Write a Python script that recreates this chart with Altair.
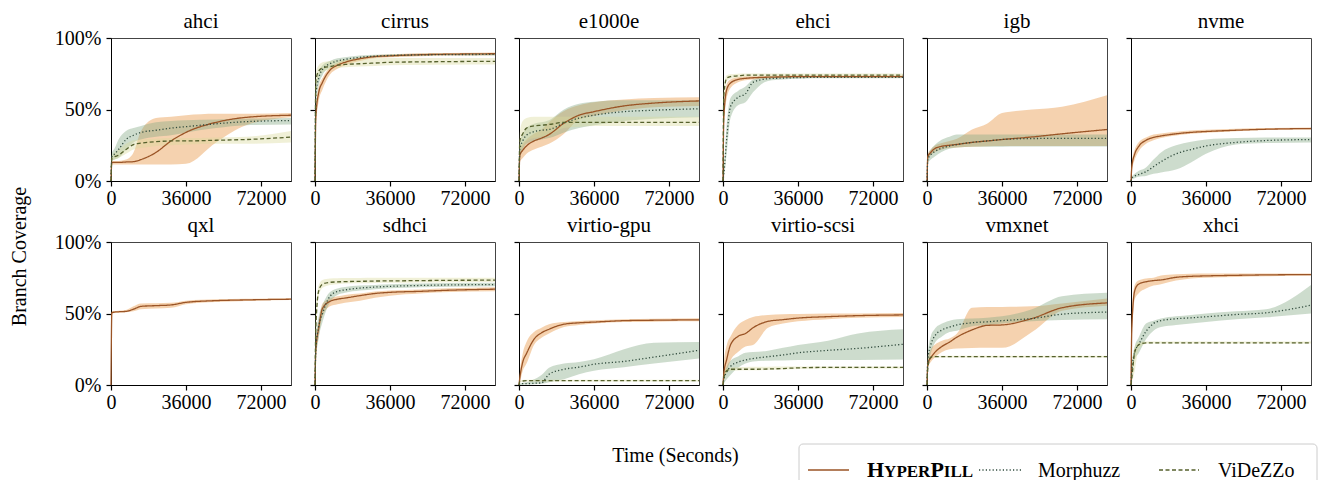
import altair as alt
import pandas as pd

FONT = "Liberation Serif, Times New Roman, Times, DejaVu Serif, serif"

# ---------------- data (coverage in %) ----------------
T = [0, 400, 1800, 3600, 7200, 10800, 14400, 21600, 28800, 36000, 50400, 64800, 86400]
DEVICES = ["ahci", "cirrus", "e1000e", "ehci", "igb", "nvme",
           "qxl", "sdhci", "virtio-gpu", "virtio-scsi", "vmxnet", "xhci"]
TOOLS = ["HyperPill", "Morphuzz", "ViDeZZo"]
X_TICKS = [0, 36000, 72000]
Y_TICKS = [0, 50, 100]

ahci_hp    = [0, 13, 13, 13, 13.3, 13.5, 15, 20, 28, 34, 41, 44.5, 46]
ahci_hp_lo = [0, 11.5, 11.5, 11.5, 11.5, 11.5, 11.5, 11.5, 11.5, 12, 27, 39, 44.5]
ahci_hp_hi = [0, 14, 14, 14, 15, 20, 35, 44, 45, 46, 47, 47, 47.5]
ahci_mz    = [0, 17, 19, 22, 29, 32, 34, 35.5, 37, 38, 40, 41.5, 42.3]
ahci_mz_lo = [0, 14, 15, 16, 22, 27, 29, 31, 32, 34, 37, 39, 39.5]
ahci_mz_hi = [0, 19, 23, 29, 35, 37, 38.5, 41, 42, 42.5, 43, 43.5, 44]
ahci_vz    = [0, 16, 17, 18, 22, 25.5, 26.5, 27.5, 28, 28, 28.5, 29, 30.7]
ahci_vz_lo = [0, 14, 15, 16, 19, 22, 23, 24.5, 25, 25.5, 26, 26, 27]
ahci_vz_hi = [0, 18, 20, 22, 26, 28.5, 29, 29.5, 30, 30, 30.5, 31, 35]

cirrus_hp    = [0, 45, 62, 69, 77.5, 81, 83, 85.5, 87, 87.5, 88.3, 88.7, 89]
cirrus_hp_lo = [0, 37, 56, 64, 74.5, 78.5, 81, 84, 85.8, 86.5, 87.3, 87.7, 88]
cirrus_hp_hi = [0, 50, 66, 72, 79.5, 82.5, 84.2, 86.5, 88, 88.5, 89.3, 89.5, 89.8]
cirrus_mz    = [0, 60, 72, 78, 82, 84, 85, 86.5, 87.3, 87.8, 88.2, 88.4, 88.5]
cirrus_mz_lo = [0, 52, 67, 74, 79.5, 82, 83.5, 85.3, 86.3, 87, 87.5, 87.7, 87.8]
cirrus_mz_hi = [0, 66, 76, 81, 84, 85.8, 86.5, 87.8, 88.3, 88.7, 89, 89.2, 89.3]
cirrus_vz    = [0, 70, 77, 79, 80, 81, 81.5, 82, 82.5, 83, 83.3, 83.5, 83.7]
cirrus_vz_lo = [0, 62, 72, 76, 78, 79, 79.5, 80, 80.5, 81, 81.2, 81.3, 81.4]
cirrus_vz_hi = [0, 76, 81, 83, 84, 84.5, 85, 85.5, 85.8, 86, 86, 86, 86]

e1000e_hp    = [0, 18, 21.5, 24.5, 28, 30, 32.5, 40.5, 46, 48.5, 52.5, 54.5, 56]
e1000e_hp_lo = [0, 13, 16, 19, 22, 24, 26, 33, 43, 45.5, 49.5, 51.5, 52.5]
e1000e_hp_hi = [0, 22, 26, 29, 33, 36, 41, 49, 53, 55, 57, 58, 58.5]
e1000e_mz    = [0, 22, 28, 32, 34.5, 35.5, 36, 40.5, 44, 46, 48.5, 49.5, 50.5]
e1000e_mz_lo = [0, 15, 22, 26, 28, 29, 30, 34, 37, 39, 42, 43.5, 44.5]
e1000e_mz_hi = [0, 27, 33, 37, 40, 41, 42.5, 50, 54, 55.5, 56.5, 56.5, 56.5]
e1000e_vz    = [0, 28, 33, 37, 38.5, 39, 39.5, 41, 41, 41, 41, 41, 41]
e1000e_vz_lo = [0, 20, 24, 28, 30, 31, 32, 37, 38, 38.5, 38.5, 38.5, 38.5]
e1000e_vz_hi = [0, 34, 42, 44, 45, 45, 45, 45, 45, 45, 45, 45, 45]

ehci_hp    = [0, 45, 64, 68.5, 71, 71.8, 72.2, 72.6, 72.8, 73, 73, 73, 73]
ehci_hp_lo = [0, 35, 58, 65, 69, 70.5, 71, 71.7, 72, 72.2, 72.3, 72.3, 72.3]
ehci_hp_hi = [0, 52, 68, 71, 72.5, 73, 73.2, 73.5, 73.6, 73.7, 73.8, 73.8, 73.8]
ehci_mz    = [0, 5, 30, 52, 58.5, 61, 69, 71.5, 72, 72.3, 72.5, 72.5, 72.5]
ehci_mz_lo = [0, 2, 20, 44, 53, 55, 62, 70, 71, 71.5, 71.8, 71.8, 71.8]
ehci_mz_hi = [0, 8, 40, 58, 63, 66, 71, 73, 73.2, 73.3, 73.4, 73.4, 73.4]
ehci_vz    = [0, 60, 72, 73, 73.5, 74, 74, 74, 74, 74, 74, 74, 74]
ehci_vz_lo = [0, 52, 70, 71.5, 72.3, 72.8, 73, 73, 73, 73, 73, 73, 73]
ehci_vz_hi = [0, 66, 74, 74.7, 75, 75.2, 75.2, 75.2, 75.2, 75.2, 75.2, 75.2, 75.2]

igb_hp    = [0, 17, 20, 22.5, 24.3, 25, 25.6, 27, 28, 29, 30.8, 33, 36]
igb_hp_lo = [0, 15, 18, 20, 22, 23, 23.5, 24, 24.3, 24.4, 24.5, 24.5, 24.5]
igb_hp_hi = [0, 19, 22, 24.5, 26.5, 28, 29.5, 36, 40, 47.5, 50, 52, 60]
igb_mz    = [0, 15, 18.5, 20.5, 23, 24.4, 25.5, 27, 28, 29, 29.7, 29.8, 29.8]
igb_mz_lo = [0, 12, 15, 17, 20.5, 22.5, 23.5, 24, 24, 24, 24.2, 24.2, 24.2]
igb_mz_hi = [0, 18, 22, 25, 29, 31, 32.5, 32.5, 32.5, 32.5, 32.5, 32.5, 32.5]

nvme_hp    = [0, 10, 19, 24, 28.5, 30.5, 31.5, 33, 34, 34.6, 35.5, 36.2, 36.7]
nvme_hp_lo = [0, 6, 15, 20.5, 26, 28.5, 30, 31.8, 33, 33.8, 34.8, 35.6, 36]
nvme_hp_hi = [0, 13, 22, 27, 30.5, 32.5, 33.3, 34.5, 35.3, 35.8, 36.5, 37, 37.4]
nvme_mz    = [0, 2, 3.5, 4.5, 6.5, 10, 13.5, 19, 22, 24.5, 27, 28.3, 29]
nvme_mz_lo = [0, 1, 2, 3, 3.5, 5, 6, 8, 13, 19, 25.5, 26.5, 27]
nvme_mz_hi = [0, 3, 5, 7, 9.5, 15, 20, 25, 27.5, 29, 30, 30.5, 30.5]

qxl_hp    = [0, 50.5, 51, 51.2, 51.5, 53, 55, 55.5, 56, 57.8, 59, 59.5, 60]
qxl_hp_lo = [0, 49.5, 50.3, 50.5, 50.8, 51.5, 53, 53.5, 54, 56.5, 58, 58.8, 59.5]
qxl_hp_hi = [0, 51.5, 51.8, 52, 52.5, 55, 57, 57.2, 57.5, 59, 60, 60.3, 60.6]

sdhci_hp    = [0, 25, 40, 53.5, 58.5, 60, 60.8, 62.5, 64, 64.8, 65.5, 66.3, 67]
sdhci_hp_lo = [0, 18, 34, 48, 55, 56.5, 57.5, 59, 61, 62.5, 64, 65, 65.5]
sdhci_hp_hi = [0, 30, 45, 57, 60.5, 62, 63, 64, 65.3, 66, 66.8, 67.6, 68.3]
sdhci_mz    = [0, 25, 41, 50, 62, 65.5, 66.5, 67.8, 68.5, 69, 69.6, 70, 70.2]
sdhci_mz_lo = [0, 15, 33, 44, 58, 63, 64.5, 66, 67, 67.6, 68.3, 68.7, 69]
sdhci_mz_hi = [0, 33, 48, 56, 65, 67.5, 68.5, 69.5, 70, 70.5, 71, 71.3, 71.5]
sdhci_vz    = [0, 40, 66, 70.5, 71.8, 72.1, 72.3, 72.5, 72.7, 72.8, 73, 73.2, 73.3]
sdhci_vz_lo = [0, 30, 62, 68, 70, 70.5, 71, 71.2, 71.4, 71.5, 71.7, 71.9, 72]
sdhci_vz_hi = [0, 50, 70, 73.5, 74.5, 74.7, 74.8, 74.9, 75, 75, 75, 75, 75]

vgpu_hp    = [0, 5, 16, 22, 32, 36.5, 39, 42.5, 43.5, 44, 45, 45.3, 45.6]
vgpu_hp_lo = [0, 2, 10, 15, 28, 33, 36, 40.5, 42, 43, 44, 44.3, 44.5]
vgpu_hp_hi = [0, 8, 22, 30, 37, 40, 42.5, 44, 44.8, 45.3, 46, 46.3, 46.6]
vgpu_mz    = [0, 0.5, 1, 1, 1.2, 1.5, 7.5, 11, 12.5, 14.5, 16.5, 19.5, 24.3]
vgpu_mz_lo = [0, 0, 0.2, 0.3, 0.5, 0.8, 2, 4, 7.5, 10, 12.5, 15, 18.5]
vgpu_mz_hi = [0, 1, 1.5, 2, 4, 7, 12, 15, 16, 18, 25, 29.5, 30]
vgpu_vz    = [0, 2.5, 2.8, 3, 3, 3, 3, 3, 3, 3, 3, 3, 3]
vgpu_vz_lo = [0, 1.8, 2.2, 2.4, 2.4, 2.4, 2.4, 2.4, 2.4, 2.4, 2.4, 2.4, 2.4]
vgpu_vz_hi = [0, 3.2, 3.5, 3.7, 3.7, 3.7, 3.7, 3.7, 3.7, 3.7, 3.7, 3.7, 3.7]

vscsi_hp    = [0, 8, 18, 28, 34, 36, 40, 44.5, 45.7, 46.8, 47.8, 48.5, 49]
vscsi_hp_lo = [0, 3, 10, 17, 23, 27, 28, 40, 43, 44.5, 46, 47, 47.5]
vscsi_hp_hi = [0, 15, 28, 34, 42, 45.5, 47.5, 49, 49.5, 49.7, 50, 50, 50.3]
vscsi_mz    = [0, 4, 9, 13, 16, 17.5, 18.5, 19.8, 21, 22.5, 24.2, 25.6, 28.5]
vscsi_mz_lo = [0, 1, 4, 7, 12, 15, 16.5, 17, 17.2, 17.4, 17.5, 17.5, 17.8]
vscsi_mz_hi = [0, 6, 13, 17, 20, 22.5, 23, 24, 26, 28, 31, 36, 39]
vscsi_vz    = [0, 5, 10, 11, 11, 11, 11, 11.2, 11.5, 12, 12.3, 12.3, 12.3]
vscsi_vz_lo = [0, 3, 8.5, 10, 10.2, 10.3, 10.3, 10.5, 10.8, 11.2, 11.5, 11.5, 11.5]
vscsi_vz_hi = [0, 7, 11.5, 12.3, 12.5, 12.6, 12.7, 12.8, 12.9, 13, 13, 13, 13]

vmx_hp    = [0, 15, 19, 22.5, 27, 30, 33.5, 38.5, 41.7, 42, 46.5, 54, 57.4]
vmx_hp_lo = [0, 12, 16, 19, 23, 25, 25.5, 25.8, 26, 26, 37, 52, 55.5]
vmx_hp_hi = [0, 19, 25, 28, 31, 32.5, 36, 54, 54.5, 54.6, 55, 57, 60.5]
vmx_mz    = [0, 18, 28, 34, 38.5, 40.5, 42, 43.5, 44.2, 45, 46.5, 49.5, 51]
vmx_mz_lo = [0, 12, 22, 29, 34, 37, 38, 41, 42, 43, 44.5, 45.5, 46]
vmx_mz_hi = [0, 22, 34, 39, 43, 45, 46, 46.5, 47, 48, 53, 62, 64.5]
vmx_vz    = [0, 12, 19.5, 19.8, 19.8, 19.8, 19.8, 19.8, 19.8, 19.8, 19.8, 19.8, 19.8]
vmx_vz_lo = [0, 9, 18.8, 19.2, 19.2, 19.2, 19.2, 19.2, 19.2, 19.2, 19.2, 19.2, 19.2]
vmx_vz_hi = [0, 15, 20.3, 20.5, 20.5, 20.5, 20.5, 20.5, 20.5, 20.5, 20.5, 20.5, 20.5]

xhci_hp    = [0, 40, 66, 70.5, 72.2, 73, 73.5, 75.3, 76, 76.3, 76.7, 77, 77.2]
xhci_hp_lo = [0, 30, 60, 64, 67.5, 69.5, 70.5, 73, 74.5, 75, 75.5, 76, 76.5]
xhci_hp_hi = [0, 50, 70, 73, 74.5, 75, 76.5, 77.5, 77.8, 78, 78, 78, 78]
xhci_mz    = [0, 10, 23, 28, 37.5, 43, 45, 46.3, 47, 47.7, 49.3, 50.5, 55.8]
xhci_mz_lo = [0, 5, 18, 22, 32, 38, 40.5, 42, 43, 44, 46, 47.3, 50]
xhci_mz_hi = [0, 14, 27, 33, 43, 45, 46.5, 48, 49, 50, 51.5, 53, 70]
xhci_vz    = [0, 5, 23, 28, 29.5, 29.5, 29.5, 29.5, 29.5, 29.5, 29.5, 29.5, 29.5]
xhci_vz_lo = [0, 2, 10, 25, 28.8, 29, 29, 29, 29, 29, 29, 29, 29]
xhci_vz_hi = [0, 10, 27, 30, 30.5, 30.5, 30.5, 30.5, 30.5, 30.5, 30.5, 30.5, 30.5]

SERIES = [
    ("ahci", 0, ahci_hp, ahci_hp_lo, ahci_hp_hi),
    ("ahci", 1, ahci_mz, ahci_mz_lo, ahci_mz_hi),
    ("ahci", 2, ahci_vz, ahci_vz_lo, ahci_vz_hi),
    ("cirrus", 0, cirrus_hp, cirrus_hp_lo, cirrus_hp_hi),
    ("cirrus", 1, cirrus_mz, cirrus_mz_lo, cirrus_mz_hi),
    ("cirrus", 2, cirrus_vz, cirrus_vz_lo, cirrus_vz_hi),
    ("e1000e", 0, e1000e_hp, e1000e_hp_lo, e1000e_hp_hi),
    ("e1000e", 1, e1000e_mz, e1000e_mz_lo, e1000e_mz_hi),
    ("e1000e", 2, e1000e_vz, e1000e_vz_lo, e1000e_vz_hi),
    ("ehci", 0, ehci_hp, ehci_hp_lo, ehci_hp_hi),
    ("ehci", 1, ehci_mz, ehci_mz_lo, ehci_mz_hi),
    ("ehci", 2, ehci_vz, ehci_vz_lo, ehci_vz_hi),
    ("igb", 0, igb_hp, igb_hp_lo, igb_hp_hi),
    ("igb", 1, igb_mz, igb_mz_lo, igb_mz_hi),
    ("nvme", 0, nvme_hp, nvme_hp_lo, nvme_hp_hi),
    ("nvme", 1, nvme_mz, nvme_mz_lo, nvme_mz_hi),
    ("qxl", 0, qxl_hp, qxl_hp_lo, qxl_hp_hi),
    ("sdhci", 0, sdhci_hp, sdhci_hp_lo, sdhci_hp_hi),
    ("sdhci", 1, sdhci_mz, sdhci_mz_lo, sdhci_mz_hi),
    ("sdhci", 2, sdhci_vz, sdhci_vz_lo, sdhci_vz_hi),
    ("virtio-gpu", 0, vgpu_hp, vgpu_hp_lo, vgpu_hp_hi),
    ("virtio-gpu", 1, vgpu_mz, vgpu_mz_lo, vgpu_mz_hi),
    ("virtio-gpu", 2, vgpu_vz, vgpu_vz_lo, vgpu_vz_hi),
    ("virtio-scsi", 0, vscsi_hp, vscsi_hp_lo, vscsi_hp_hi),
    ("virtio-scsi", 1, vscsi_mz, vscsi_mz_lo, vscsi_mz_hi),
    ("virtio-scsi", 2, vscsi_vz, vscsi_vz_lo, vscsi_vz_hi),
    ("vmxnet", 0, vmx_hp, vmx_hp_lo, vmx_hp_hi),
    ("vmxnet", 1, vmx_mz, vmx_mz_lo, vmx_mz_hi),
    ("vmxnet", 2, vmx_vz, vmx_vz_lo, vmx_vz_hi),
    ("xhci", 0, xhci_hp, xhci_hp_lo, xhci_hp_hi),
    ("xhci", 1, xhci_mz, xhci_mz_lo, xhci_mz_hi),
    ("xhci", 2, xhci_vz, xhci_vz_lo, xhci_vz_hi),
]

rows = []
for dev, k, m, lo, hi in SERIES:
    for t, a, b, c in zip(T, m, lo, hi):
        rows.append({"device": dev, "tool": TOOLS[k], "t": t, "mean": a, "lo": b, "hi": c})
df = pd.DataFrame(rows)

# ---------------- styling ----------------
LINE_COLORS = ["#9a5426", "#2f4a3c", "#55602c"]
BAND_COLORS = ["#e68e37", "#82a782", "#d9d99b"]
DASHES = [[1, 0], [1.2, 2.2], [4, 2.5]]
W, H = 180, 143
ONE = pd.DataFrame({"k": [0]})

x_scale = alt.Scale(domain=[0, 86400], nice=False, zero=False)
y_scale = alt.Scale(domain=[0, 100], nice=False)


def x_axis(i):
    kw = dict(values=X_TICKS, format="d", labelFont=FONT, labelFontSize=20,
              labelColor="black", labelPadding=2, labelFlush=False, labelOverlap=False,
              tickSize=5, tickWidth=1.2, tickColor="black", domainColor="black",
              domainWidth=1, grid=False)
    if i == 6:
        kw.update(titleX=564, titleY=70, titleAlign="center", titleBaseline="middle",
                  titleFont=FONT, titleFontSize=20, titleFontWeight="normal",
                  titleColor="black")
    return alt.Axis(**kw)


def y_axis(i):
    kw = dict(values=Y_TICKS, labelExpr="datum.value + '%'", labels=(i % 6 == 0),
              labelFont=FONT, labelFontSize=20, labelColor="black", labelPadding=5,
              labelFlush=False, labelOverlap=False,
              tickSize=5, tickWidth=1.2, tickColor="black", domainColor="black",
              domainWidth=1, grid=False)
    if i == 0:
        kw.update(titleX=-92, titleY=218, titleAngle=270, titleAlign="center",
                  titleBaseline="middle", titleFont=FONT, titleFontSize=20,
                  titleFontWeight="normal", titleColor="black")
    return alt.Axis(**kw)


def legend_layers():
    """Hand-drawn legend box (drawn in the qxl panel's frame, below the grid)."""
    layers = [
        alt.Chart(ONE).mark_rect(fill="white", stroke="#cccccc", strokeWidth=1,
                                 cornerRadius=4).encode(
            x=alt.value(688), x2=alt.value(1206), y=alt.value(202), y2=alt.value(262))
    ]
    swatches = [(697, 738), (868, 910), (1048, 1088)]
    for k, (a, b) in enumerate(swatches):
        layers.append(
            alt.Chart(ONE).mark_rule(color=LINE_COLORS[k], strokeWidth=1.4,
                                     strokeDash=DASHES[k]).encode(
                x=alt.value(a), x2=alt.value(b), y=alt.value(228)))
    # small-caps "HyperPill"
    parts = [("H", 22, 756), ("YPER", 17, 773.1), ("P", 22, 819.4), ("ILL", 17, 832.8)]
    for txt, fs, xpos in parts:
        layers.append(
            alt.Chart(ONE).mark_text(text=txt, font=FONT, fontSize=fs, fontWeight="bold",
                                     align="left", baseline="alphabetic", color="black").encode(
                x=alt.value(xpos), y=alt.value(235)))
    for txt, xpos in [(TOOLS[1], 927), (TOOLS[2], 1107)]:
        layers.append(
            alt.Chart(ONE).mark_text(text=txt, font=FONT, fontSize=20, align="left",
                                     baseline="alphabetic", color="black").encode(
                x=alt.value(xpos), y=alt.value(235)))
    return layers


def panel(i, dev):
    xt = "Time (Seconds)" if i == 6 else None
    yt = "Branch Coverage" if i == 0 else None
    title_offset = -20.5 if i % 6 == 0 else -11.5
    base = alt.Chart(df).transform_filter(alt.datum.device == dev)
    band = base.mark_area(opacity=0.4, interpolate="monotone").encode(
        x=alt.X("t:Q", scale=x_scale, axis=x_axis(i), title=xt),
        y=alt.Y("lo:Q", scale=y_scale, axis=y_axis(i), title=yt),
        y2="hi:Q",
        fill=alt.Fill("tool:N", scale=alt.Scale(domain=TOOLS, range=BAND_COLORS), legend=None),
    )
    line = base.mark_line(strokeWidth=1.3, interpolate="monotone").encode(
        x=alt.X("t:Q", scale=x_scale, axis=x_axis(i), title=xt),
        y=alt.Y("mean:Q", scale=y_scale, axis=y_axis(i), title=yt),
        stroke=alt.Stroke("tool:N", scale=alt.Scale(domain=TOOLS, range=LINE_COLORS),
                          legend=None),
        strokeDash=alt.StrokeDash("tool:N", scale=alt.Scale(domain=TOOLS, range=DASHES),
                                  legend=None),
    )
    layers = [band, line]
    if i == 6:
        layers += legend_layers()
    return alt.layer(*layers).properties(
        width=W, height=H,
        title=alt.TitleParams(dev, font=FONT, fontSize=21, fontWeight="normal",
                              color="black", anchor="middle", frame="group",
                              baseline="alphabetic", offset=title_offset),
    )


panels = [panel(i, d) for i, d in enumerate(DEVICES)]

chart = alt.concat(
    *panels, columns=6, spacing={"row": 61, "column": 24}, bounds="flush"
).configure_view(
    stroke="#444444", strokeWidth=1
).properties(
    padding={"left": 0, "top": 2, "right": 0, "bottom": 0}
)

chart.save("out.html", embed_options={"renderer": "svg", "actions": False})
